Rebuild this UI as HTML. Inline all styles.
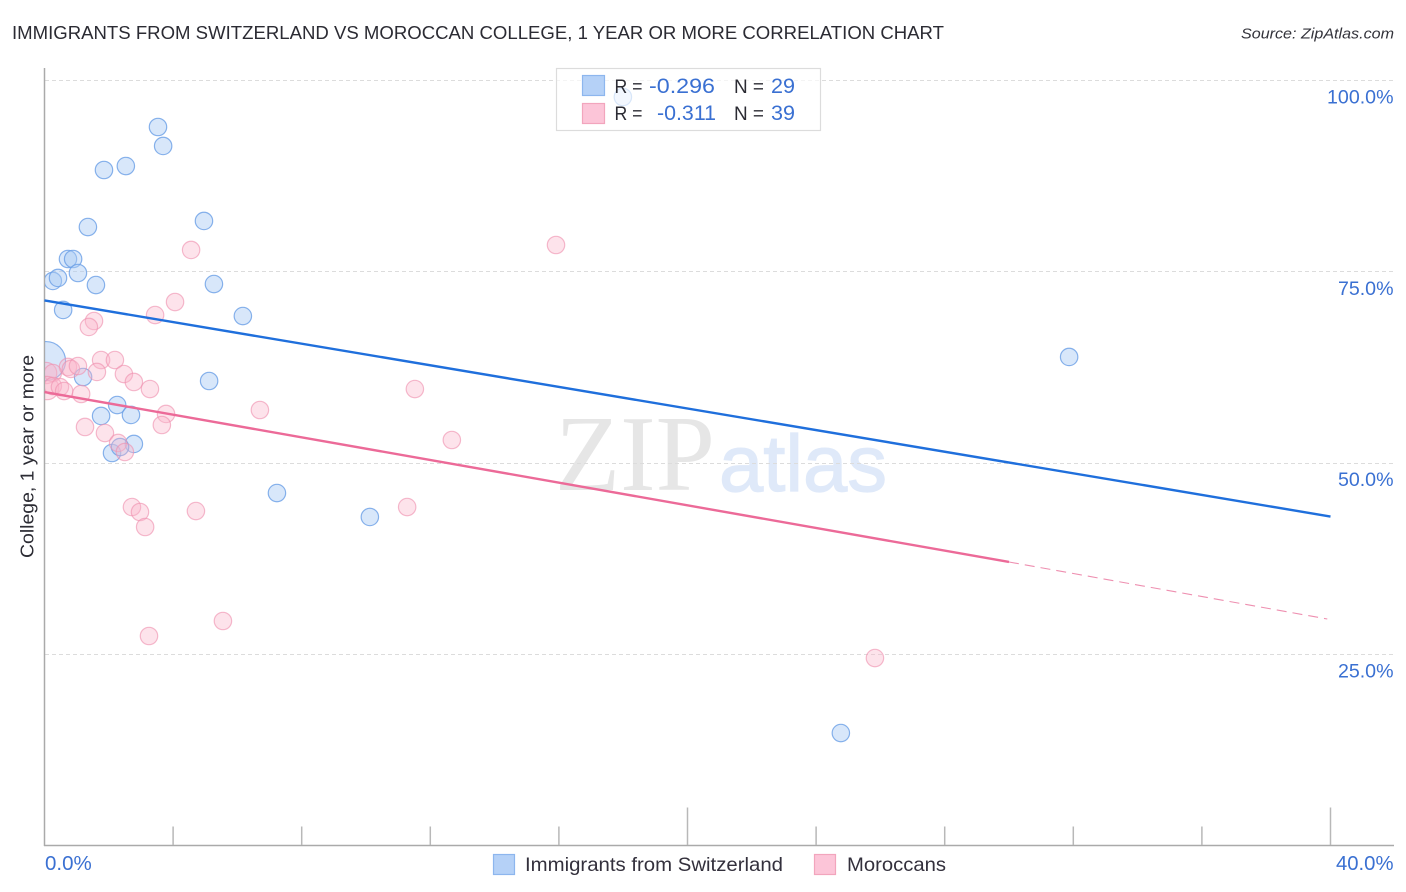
<!DOCTYPE html>
<html lang="en">
<head>
<meta charset="utf-8">
<title>Immigrants from Switzerland vs Moroccan College Correlation Chart</title>
<style>
html,body{margin:0;padding:0;background:#fff;width:1406px;height:892px;overflow:hidden}
svg{display:block}
text{font-family:"Liberation Sans",sans-serif}
</style>
</head>
<body>
<svg id="chart" width="1406" height="892" viewBox="0 0 1406 892" xmlns="http://www.w3.org/2000/svg">
<defs><clipPath id="plot-clip"><rect x="45" y="68" width="1349" height="777"/></clipPath></defs>
<text x="12" y="39" font-size="18.5" fill="#2b2b33" textLength="932" lengthAdjust="spacingAndGlyphs">IMMIGRANTS FROM SWITZERLAND VS MOROCCAN COLLEGE, 1 YEAR OR MORE CORRELATION CHART</text>
<text x="1241" y="38.5" font-size="15" font-style="italic" fill="#33333b" textLength="153" lengthAdjust="spacingAndGlyphs">Source: ZipAtlas.com</text>
<text x="555" y="490" font-size="108" fill="#e6e6e6" style="font-family:'Liberation Serif',serif" textLength="160" lengthAdjust="spacingAndGlyphs">ZIP</text>
<text x="719" y="491" font-size="80" fill="#dfe9f9" stroke="#dfe9f9" stroke-width="1.2" textLength="168" lengthAdjust="spacingAndGlyphs">atlas</text>
<g id="grid"></g>
<g id="axes"></g>
<g id="points-blue" clip-path="url(#plot-clip)"></g>
<g id="points-pink" clip-path="url(#plot-clip)"></g>
<g id="trends"></g>
<text transform="translate(33.5,558) rotate(-90)" font-size="18.5" fill="#2b2b33" textLength="203" lengthAdjust="spacingAndGlyphs">College, 1 year or more</text>
<g>
<rect x="556.5" y="68.5" width="264" height="62" fill="#fff" fill-opacity="0.68" stroke="#dcdcdc" stroke-width="1.2"/>
<rect x="582.5" y="75.5" width="22" height="20" fill="#b5d1f7" stroke="#8db6ee" stroke-width="1.2"/>
<rect x="582.5" y="103.5" width="22" height="20" fill="#fcc5d8" stroke="#f2a5bd" stroke-width="1.2"/>
<text x="614.5" y="93" font-size="19" fill="#2b2b33" textLength="28" lengthAdjust="spacingAndGlyphs">R =</text>
<text x="649" y="93" font-size="21.5" fill="#3a70d2" textLength="66" lengthAdjust="spacingAndGlyphs">-0.296</text>
<text x="734" y="93" font-size="19" fill="#2b2b33" textLength="30" lengthAdjust="spacingAndGlyphs">N =</text>
<text x="771" y="93" font-size="21.5" fill="#3a70d2" textLength="24" lengthAdjust="spacingAndGlyphs">29</text>
<text x="614.5" y="120" font-size="19" fill="#2b2b33" textLength="28" lengthAdjust="spacingAndGlyphs">R =</text>
<text x="657" y="120" font-size="21.5" fill="#3a70d2" textLength="59" lengthAdjust="spacingAndGlyphs">-0.311</text>
<text x="734" y="120" font-size="19" fill="#2b2b33" textLength="30" lengthAdjust="spacingAndGlyphs">N =</text>
<text x="771" y="120" font-size="21.5" fill="#3a70d2" textLength="24" lengthAdjust="spacingAndGlyphs">39</text>
</g>
<g>
<rect x="493.5" y="854.5" width="21" height="20" fill="#b5d1f7" stroke="#8db6ee" stroke-width="1.2"/>
<text x="525" y="871" font-size="19.5" fill="#33303c" textLength="258" lengthAdjust="spacingAndGlyphs">Immigrants from Switzerland</text>
<rect x="814.5" y="854.5" width="21" height="20" fill="#fcc5d8" stroke="#f2a5bd" stroke-width="1.2"/>
<text x="847" y="871" font-size="19.5" fill="#33303c" textLength="99" lengthAdjust="spacingAndGlyphs">Moroccans</text>
</g>
</svg>
<script>
const yTicks = [100, 75, 50, 25];
const yTickLabels = ["100.0%", "75.0%", "50.0%", "25.0%"];
const xTicks = [0, 4, 8, 12, 16, 20, 24, 28, 32, 36, 40];
const xEndLabels = ["0.0%", "40.0%"];

const blueX = [3.53,3.69,1.85,2.53,17.99,4.96,1.35,0.73,0.89,0.26,0.42,1.04,1.60,5.27,0.58,6.17,31.87,0.05,1.20,5.12,2.26,1.76,2.69,2.78,2.10,2.35,7.23,10.12,24.77];
const blueY = [93.86,91.38,88.24,88.76,97.78,81.58,80.79,76.61,76.61,73.74,74.13,74.78,73.21,73.34,69.95,69.16,63.81,63.28,61.19,60.67,57.53,56.10,56.23,52.44,51.26,52.04,46.03,42.90,14.67];
const blueWeight = [1,1,1,1,1,1,1,1,1,1,1,1,1,1,1,1,1,5,1,1,1,1,1,1,1,1,1,1,1];

const pinkX = [15.91,4.56,4.06,3.44,1.54,1.38,1.76,2.19,0.73,0.82,1.04,1.63,2.47,2.78,3.28,11.52,1.14,3.78,3.65,1.26,1.88,6.70,12.67,2.29,2.50,2.72,2.97,4.71,11.28,3.13,5.55,3.25,25.83,0.05,0.26,0.08,0.26,0.48,0.61];
const pinkY = [78.44,77.79,70.99,69.29,68.51,67.73,63.41,63.41,62.50,62.24,62.63,61.85,61.58,60.54,59.62,59.62,58.97,56.36,54.92,54.66,53.87,56.88,52.96,52.57,51.39,44.20,43.55,43.68,44.20,41.59,29.31,27.35,24.47,61.71,61.71,59.75,60.01,59.88,59.36];
const pinkWeight = [1,1,1,1,1,1,1,1,1,1,1,1,1,1,1,1,1,1,1,1,1,1,1,1,1,1,1,1,1,1,1,1,1,1.5,1,1.8,1,1,1];

const blueTrendX = [0, 40];
const blueTrendY = [71.19, 42.96];
const pinkTrendX = [0, 30];
const pinkTrendY = [59.23, 37.02];
const pinkDashX = [30, 39.9];
const pinkDashY = [37.02, 29.57];

const NS = "http://www.w3.org/2000/svg";
function xScale(v) { return 44.5 + v * 32.15; }
function yScale(v) { return 845.3 - v * 7.653; }
function rScale(w) { return 8.7 * Math.sqrt(w); }
function make(tag, attrs, parent) {
  const el = document.createElementNS(NS, tag);
  for (const k in attrs) el.setAttribute(k, attrs[k]);
  parent.appendChild(el);
  return el;
}

const grid = document.getElementById("grid");
const axes = document.getElementById("axes");

yTicks.forEach(function (t, i) {
  const y = Math.round(yScale(t)) + 0.5;
  const g = make("line", {x1: 45, x2: 1394, y1: y, y2: y, stroke: "#dcdcdc", "stroke-width": 1, "stroke-dasharray": "4 3"}, grid);
  
  
  const lab = make("text", {x: 1393.5, y: yScale(t) + 23.5, "text-anchor": "end", "font-size": 19.6, fill: "#3a70d2"}, axes);
  
  
  lab.textContent = yTickLabels[i];
});

const yAxis = make("line", {x1: 44.5, x2: 44.5, y1: 68, y2: 846, stroke: "#aaaaaa", "stroke-width": 1.5}, axes);


const xAxis = make("line", {x1: 44, x2: 1394, y1: 845.5, y2: 845.5, stroke: "#aaaaaa", "stroke-width": 1.5}, axes);



xTicks.forEach(function (t) {
  if (t === 0) return;
  const major = t === 20 || t === 40;
  const x = xScale(t);
  const tick = make("line", {x1: x, x2: x, y1: major ? 807.5 : 826.5, y2: 845, stroke: "#b8b8b8", "stroke-width": 1.5}, axes);
  
  
});

const xLabelStart = make("text", {x: xScale(xTicks[0]) + 0.5, y: 870, "font-size": 20.5, fill: "#3a70d2"}, axes);


xLabelStart.textContent = xEndLabels[0];
const xLabelEnd = make("text", {x: 1393.5, y: 870, "text-anchor": "end", "font-size": 20.3, fill: "#3a70d2"}, axes);


xLabelEnd.textContent = xEndLabels[1];

const blueGroup = document.getElementById("points-blue");
blueX.forEach(function (v, i) {
  const c = make("circle", {cx: xScale(v), cy: yScale(blueY[i]), r: rScale(blueWeight[i]), fill: "#a9caf5", "fill-opacity": 0.45, stroke: "#6a9fe6", "stroke-opacity": 0.8, "stroke-width": 1.2}, blueGroup);
  
  
});

const pinkGroup = document.getElementById("points-pink");
pinkX.forEach(function (v, i) {
  const c = make("circle", {cx: xScale(v), cy: yScale(pinkY[i]), r: rScale(pinkWeight[i]), fill: "#f9b6cb", "fill-opacity": 0.38, stroke: "#ef8fae", "stroke-opacity": 0.62, "stroke-width": 1.2}, pinkGroup);
  
  
});

const trends = document.getElementById("trends");
const blueTrend = make("line", {x1: xScale(blueTrendX[0]), y1: yScale(blueTrendY[0]), x2: xScale(blueTrendX[1]), y2: yScale(blueTrendY[1]), stroke: "#1f6fdc", "stroke-width": 2.4}, trends);


const pinkTrend = make("line", {x1: xScale(pinkTrendX[0]), y1: yScale(pinkTrendY[0]), x2: xScale(pinkTrendX[1]), y2: yScale(pinkTrendY[1]), stroke: "#ec6a98", "stroke-width": 2.4}, trends);


const pinkDash = make("line", {x1: xScale(pinkDashX[0]), y1: yScale(pinkDashY[0]), x2: xScale(pinkDashX[1]), y2: yScale(pinkDashY[1]), stroke: "#ee8fb0", "stroke-width": 1.1, "stroke-dasharray": "10 6"}, trends);


</script>
</body>
</html>
